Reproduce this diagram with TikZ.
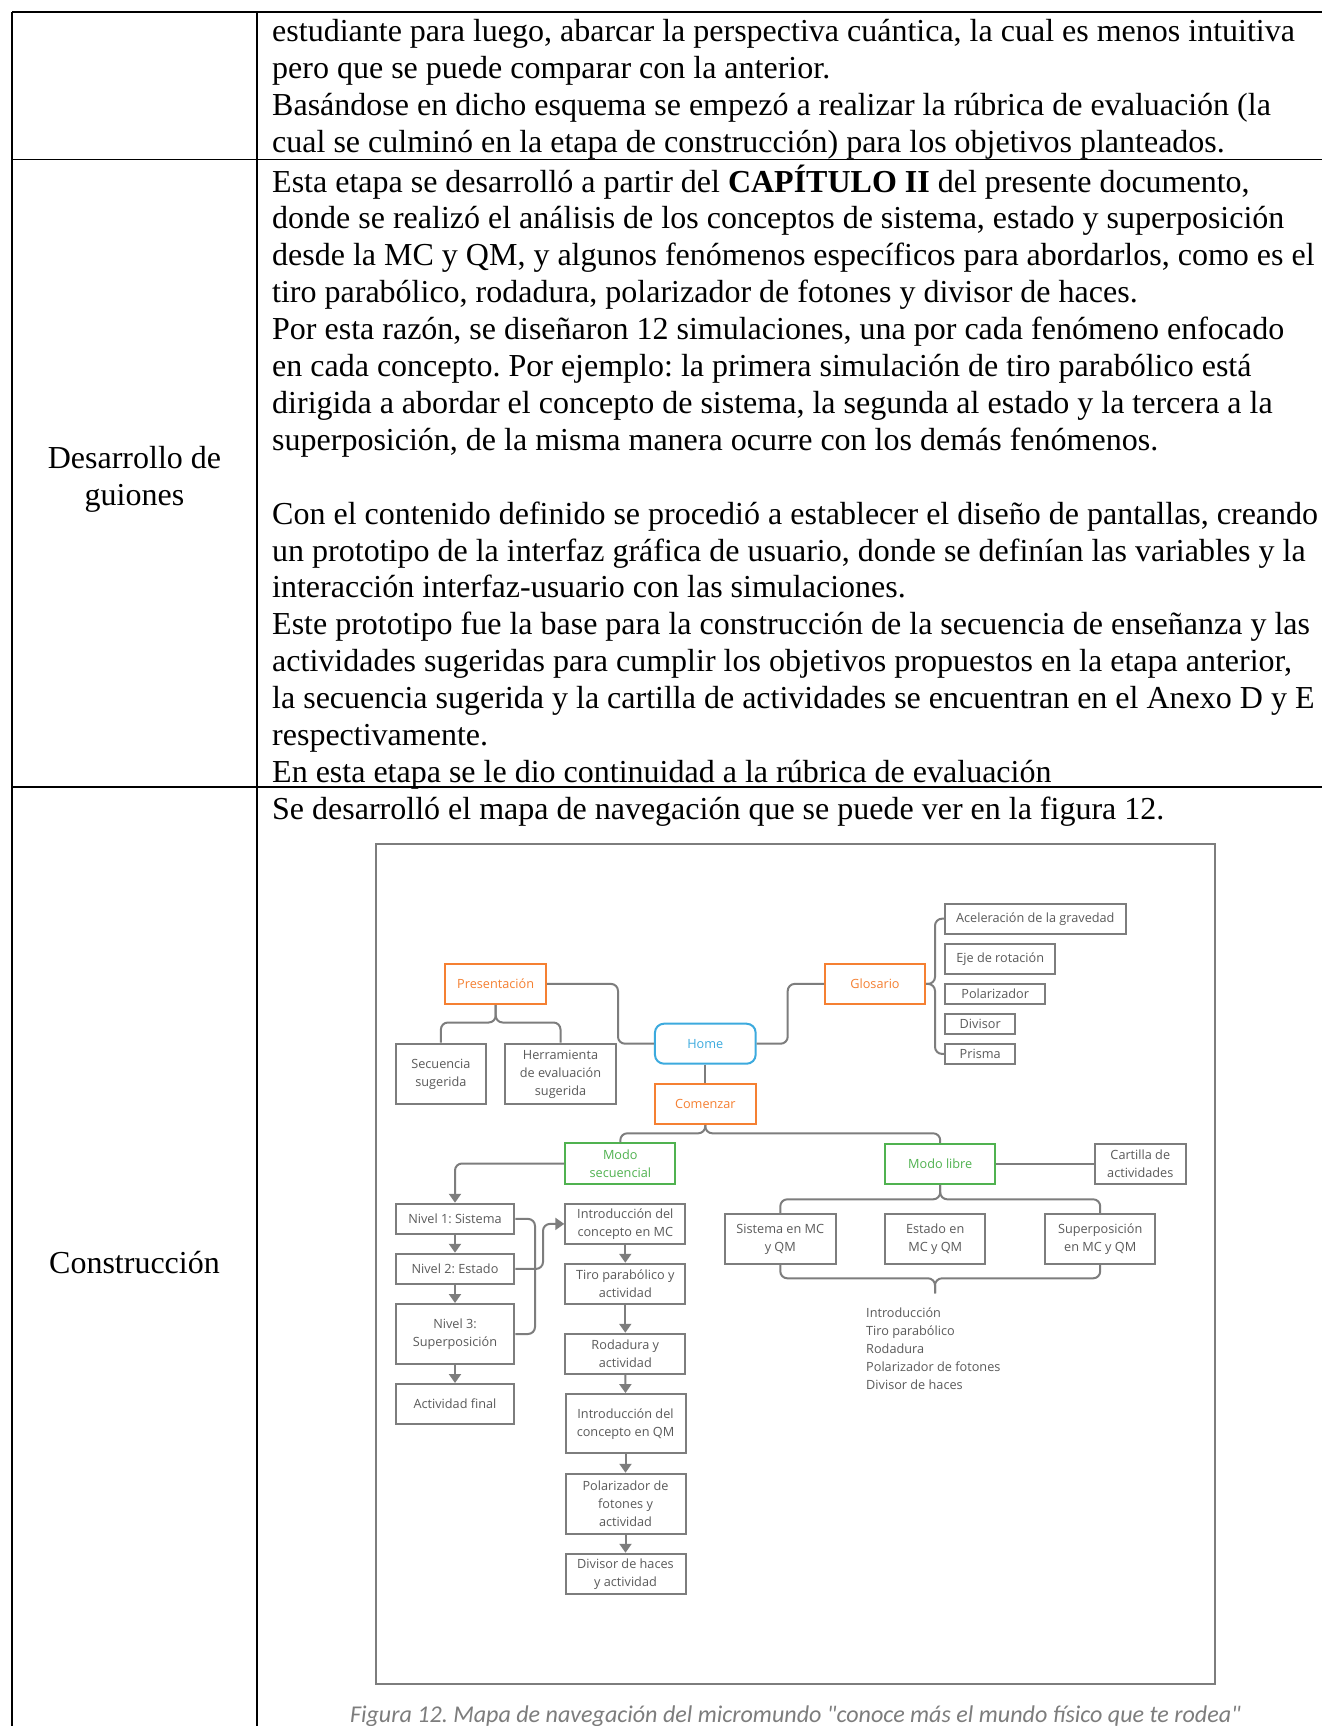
\documentclass[tikz,border=0pt]{standalone}
\usepackage{fontspec}
\usepackage{graphicx}
\setmainfont{Liberation Serif}
\newfontfamily\diagfont{Open Sans}
\newfontfamily\capfont{Carlito}
\usetikzlibrary{arrows.meta}
\definecolor{dgray}{RGB}{125,125,125}
\definecolor{tgray}{RGB}{90,90,90}
\definecolor{orng}{RGB}{245,128,50}
\definecolor{hblue}{RGB}{60,170,222}
\definecolor{mgreen}{RGB}{80,178,80}
\definecolor{capgray}{RGB}{125,125,125}
\newcommand\dgfont{\diagfont\fontsize{12.7}{18}\selectfont}
\frenchspacing
\begin{document}
\frenchspacing
\begin{tikzpicture}[x=1pt,y=-1pt,
  tabline/.style={line width=1.8pt,draw=black},
  rowtext/.style={anchor=base west,inner sep=0pt,font=\fontsize{32}{36.9}\selectfont\frenchspacing},
  coltext/.style={anchor=base,inner sep=0pt,font=\fontsize{32}{36.9}\selectfont},
  gbox/.style={draw=dgray,line width=2pt,inner sep=0pt,align=center,font=\dgfont,text=tgray},
  obox/.style={gbox,draw=orng,text=orng},
  bbox/.style={gbox,draw=hblue,text=hblue,rounded corners=9pt},
  grbox/.style={gbox,draw=mgreen,text=mgreen},
  conn/.style={draw=dgray,line width=2pt,rounded corners=7pt},
  arr/.style={conn,-{Triangle[width=12pt,length=9pt]}},
  listtext/.style={anchor=base west,inner sep=0pt,font=\dgfont,text=tgray}
]
\path[use as bounding box] (0,0) rectangle (1322,1726);
\fill[white] (0,0) rectangle (1322,1726);

% table lines
\draw[tabline] (12,12) -- (1322,12);
\draw[tabline] (12,159.5) -- (1322,159.5);
\draw[tabline] (12,787) -- (1322,787);
\draw[tabline] (12,12) -- (12,1726);
\draw[tabline] (257,12) -- (257,1726);

% row 1
\node[rowtext] (r1a) at (272,41.7) {estudiante para luego, abarcar la perspectiva cuántica, la cual es menos intuitiva};
\node[rowtext] (r1b) at (272,78.6) {pero que se puede comparar con la anterior.};
\node[rowtext] (r1c) at (272,115.5) {Basándose en dicho esquema se empezó a realizar la rúbrica de evaluación (la};
\node[rowtext] (r1d) at (272,152.4) {cual se culminó en la etapa de construcción) para los objetivos planteados.};

% row 2
\node[coltext] (c2a) at (134.5,468) {Desarrollo de};
\node[coltext] (c2b) at (134.5,505) {guiones};
\node[rowtext] (r2a) at (272,192) {Esta etapa se desarrolló a partir del {\bfseries CAPÍTULO II} del presente documento,};
\node[rowtext] (r2b) at (272,228.9) {donde se realizó el análisis de los conceptos de sistema, estado y superposición};
\node[rowtext] (r2c) at (272,265.8) {desde la MC y QM, y algunos fenómenos específicos para abordarlos, como es el};
\node[rowtext] (r2d) at (272,302.7) {tiro parabólico, rodadura, polarizador de fotones y divisor de haces.};
\node[rowtext] (r2e) at (272,339.6) {Por esta razón, se diseñaron 12 simulaciones, una por cada fenómeno enfocado};
\node[rowtext] (r2f) at (272,376.5) {en cada concepto. Por ejemplo: la primera simulación de tiro parabólico está};
\node[rowtext] (r2g) at (272,413.4) {dirigida a abordar el concepto de sistema, la segunda al estado y la tercera a la};
\node[rowtext] (r2h) at (272,450.3) {superposición, de la misma manera ocurre con los demás fenómenos.};
\node[rowtext] (r2i) at (272,524.1) {Con el contenido definido se procedió a establecer el diseño de pantallas, creando};
\node[rowtext] (r2j) at (272,561) {un prototipo de la interfaz gráfica de usuario, donde se definían las variables y la};
\node[rowtext] (r2k) at (272,597.9) {interacción interfaz-usuario con las simulaciones.};
\node[rowtext] (r2l) at (272,634.8) {Este prototipo fue la base para la construcción de la secuencia de enseñanza y las};
\node[rowtext] (r2m) at (272,671.7) {actividades sugeridas para cumplir los objetivos propuestos en la etapa anterior,};
\node[rowtext] (r2n) at (272,708.6) {la secuencia sugerida y la cartilla de actividades se encuentran en el Anexo D y E};
\node[rowtext] (r2o) at (272,745.5) {respectivamente.};
\node[rowtext] (r2p) at (272,782.4) {En esta etapa se le dio continuidad a la rúbrica de evaluación};

% row 3
\node[coltext] (c3a) at (134.5,1273) {Construcción};
\node[rowtext] (r3a) at (272,819) {Se desarrolló el mapa de navegación que se puede ver en la figura 12.};

% figure frame
\draw[draw=dgray,line width=2pt] (375.5,844) rectangle (1214.5,1683.5);

% diagram nodes
\node[obox,minimum width=100.7pt,minimum height=40.3pt] (pres) at (495.7,983.9) {Presentación};
\node[obox,minimum width=100pt,minimum height=40.3pt] (glos) at (875,983.9) {Glosario};
\node[bbox,minimum width=100.7pt,minimum height=40pt] (home) at (705.3,1043.7) {Home};
\node[obox,minimum width=100.7pt,minimum height=40.3pt] (com) at (705.3,1103.9) {Comenzar};
\node[gbox,minimum width=90.3pt,minimum height=60.6pt] (sec) at (440.9,1074) {Secuencia\\sugerida};
\node[gbox,minimum width=110.4pt,minimum height=60.6pt] (herr) at (560.5,1074) {Herramienta\\de evaluación\\sugerida};
\node[gbox,minimum width=180.7pt,minimum height=30pt] (acel) at (1035.3,918.7) {Aceleración de la gravedad};
\node[gbox,minimum width=110.3pt,minimum height=30pt] (eje) at (1000.2,958.7) {Eje de rotación};
\node[gbox,minimum width=100.3pt,minimum height=20.3pt] (polz) at (995.2,993.9) {Polarizador};
\node[gbox,minimum width=70.3pt,minimum height=20.3pt] (divi) at (980.2,1023.9) {Divisor};
\node[gbox,minimum width=70.3pt,minimum height=20.3pt] (pris) at (980.2,1053.9) {Prisma};
\node[grbox,minimum width=110pt,minimum height=40.4pt] (msec) at (620.3,1163.5) {Modo\\secuencial};
\node[grbox,minimum width=110.3pt,minimum height=40pt] (mlib) at (940.2,1163.9) {Modo libre};
\node[gbox,minimum width=90.7pt,minimum height=40pt] (cart) at (1140.3,1163.9) {Cartilla de\\actividades};
\node[gbox,minimum width=118.6pt,minimum height=30.3pt] (n1) at (455,1218.9) {Nivel 1: Sistema};
\node[gbox,minimum width=118.6pt,minimum height=30.3pt] (n2) at (455,1268.9) {Nivel 2: Estado};
\node[gbox,minimum width=118.6pt,minimum height=60pt] (n3) at (455,1334) {Nivel 3:\\Superposición};
\node[gbox,minimum width=118.6pt,minimum height=40pt] (actf) at (455,1404) {Actividad final};
\node[gbox,minimum width=120pt,minimum height=40.3pt] (imc) at (625.3,1223.9) {Introducción del\\concepto en MC};
\node[gbox,minimum width=120pt,minimum height=40.3pt] (tiro) at (625.3,1283.9) {Tiro parabólico y\\actividad};
\node[gbox,minimum width=120pt,minimum height=40.3pt] (rod) at (625.3,1353.9) {Rodadura y\\actividad};
\node[gbox,minimum width=120pt,minimum height=59.3pt] (iqm) at (625.5,1423.7) {Introducción del\\concepto en QM};
\node[gbox,minimum width=120pt,minimum height=60.3pt] (pfot) at (625.5,1503.9) {Polarizador de\\fotones y\\actividad};
\node[gbox,minimum width=120pt,minimum height=40.3pt] (dhac) at (625.5,1573.9) {Divisor de haces\\y actividad};
\node[gbox,minimum width=110.7pt,minimum height=50.3pt] (sis) at (780.3,1238.9) {Sistema en MC\\y QM};
\node[gbox,minimum width=100.3pt,minimum height=50.3pt] (est) at (935.2,1238.9) {Estado en\\MC y QM};
\node[gbox,minimum width=110.3pt,minimum height=50.3pt] (sup) at (1100.2,1238.9) {Superposición\\en MC y QM};

\node[listtext] (l1) at (866,1317.8) {Introducción};
\node[listtext] (l2) at (866,1335.8) {Tiro parabólico};
\node[listtext] (l3) at (866,1353.8) {Rodadura};
\node[listtext] (l4) at (866,1371.8) {Polarizador de fotones};
\node[listtext] (l5) at (866,1389.8) {Divisor de haces};
\coordinate (tip) at (935,1293.3);

% connectors
\draw[conn] (pres.east) -- (618,983.9) -- (618,1043.7) -- (home.west);
\draw[conn] (home.east) -- (787.7,1043.7) -- (787.7,983.9) -- (glos.west);
\draw[conn] (pres.south) -- (495.7,1022.5) -- (440.9,1022.5) -- (sec.north);
\draw[conn] (pres.south) -- (495.7,1022.5) -- (560.5,1022.5) -- (herr.north);
\draw[conn] (glos.east) -- (935,983.9) -- (935,918.7) -- (acel.west);
\draw[conn] (glos.east) -- (935,983.9) -- (935,1053.9) -- (pris.west);
\draw[conn] (home.south) -- (com.north);
\draw[conn] (com.south) -- (705.3,1133.3) -- (620.3,1133.3) -- (msec.north);
\draw[conn] (com.south) -- (705.3,1133.3) -- (940.2,1133.3) -- (mlib.north);
\draw[conn] (mlib.east) -- (cart.west);
\draw[conn] (mlib.south) -- (940.2,1199.3) -- (780.3,1199.3) -- (sis.north);
\draw[conn] (mlib.south) -- (940.2,1199.3) -- (1100.2,1199.3) -- (sup.north);
\draw[conn] (sis.south) -- (780.3,1278.3) -- (935,1278.3) -- (tip);
\draw[conn] (sup.south) -- (1100.2,1278.3) -- (935,1278.3) -- (tip);
\draw[arr] (msec.west) -- (455,1163.5) -- (n1.north);
\draw[arr] (n1.south) -- (n2.north);
\draw[arr] (n2.south) -- (n3.north);
\draw[arr] (n3.south) -- (actf.north);
\draw[conn] (n1.east) -- (535,1218.9) -- (535,1334) -- (n3.east);
\draw[arr] (n2.east) -- (543,1268.9) -- (543,1223.9) -- (imc.west);
\draw[arr] (imc.south) -- (tiro.north);
\draw[arr] (tiro.south) -- (rod.north);
\draw[arr] (rod.south) -- (iqm.north);
\draw[arr] (iqm.south) -- (pfot.north);
\draw[arr] (pfot.south) -- (dhac.north);

% caption
\begin{scope}
\clip (0,0) rectangle (1322,1726);
\node[anchor=base,inner sep=0pt,text=capgray] (cap) at (795.5,1722) {\resizebox{891pt}{!}{\capfont\itshape Figura 12. Mapa de navegación del micromundo "conoce más el mundo físico que te rodea"}};
\end{scope}
\end{tikzpicture}
\end{document}
